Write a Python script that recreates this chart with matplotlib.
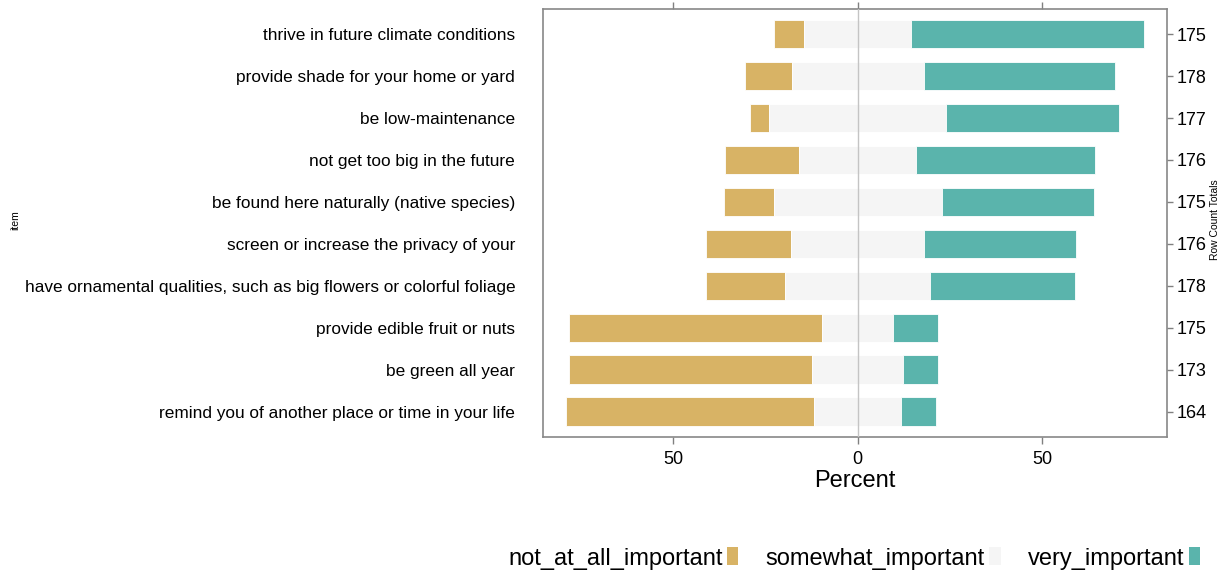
import numpy as np
import matplotlib.pyplot as plt
from matplotlib.patches import Patch

plt.rcParams["font.family"] = ["Liberation Sans", "DejaVu Sans"]

# Survey items, top to bottom as shown
items = [
    "thrive in future climate conditions",
    "provide shade for your home or yard",
    "be low-maintenance",
    "not get too big in the future",
    "be found here naturally (native species)",
    "screen or increase the privacy of your",
    "have ornamental qualities, such as big flowers or colorful foliage",
    "provide edible fruit or nuts",
    "be green all year",
    "remind you of another place or time in your life",
]
# Percent of respondents per level
not_at_all_important = [8.1, 12.6, 5.2, 20.1, 13.4, 22.9, 21.4, 68.7, 66.0, 67.2]
somewhat_important = [28.9, 35.8, 47.8, 31.6, 45.5, 36.1, 39.2, 19.2, 24.6, 23.6]
very_important = [63.0, 51.8, 47.0, 48.5, 41.2, 41.1, 39.4, 12.1, 9.4, 9.3]
row_totals = [175, 178, 177, 176, 175, 176, 178, 175, 173, 164]

levels = ["not_at_all_important", "somewhat_important", "very_important"]
colors = ["#D8B365", "#F5F5F5", "#5AB4AC"]

neg = np.array(not_at_all_important)
mid = np.array(somewhat_important)
pos = np.array(very_important)
n = len(items)
y = np.arange(n, 0, -1)

fig = plt.figure(figsize=(12.27, 5.71), dpi=100)
ax = fig.add_axes([0.4425, 0.2352, 0.9508 - 0.4425, 0.9842 - 0.2352])

h = 0.675
ax.barh(y, neg, left=-mid / 2 - neg, height=h, color=colors[0], edgecolor="white", linewidth=0.6)
ax.barh(y, mid, left=-mid / 2, height=h, color=colors[1], edgecolor="white", linewidth=0.6)
ax.barh(y, pos, left=mid / 2, height=h, color=colors[2], edgecolor="white", linewidth=0.6)
ax.axvline(0, color="#C4C4C4", linewidth=1, zorder=3)

# lattice-style 4% padding
lo = (-mid / 2 - neg).min()
hi = (mid / 2 + pos).max()
pad = 0.04 * (hi - lo)
ax.set_xlim(lo - pad, hi + pad)
ax.set_ylim(0.4, n + 0.6)

ax.set_xticks([-50, 0, 50])
ax.set_xticklabels(["50", "0", "50"])
ax.tick_params(axis="x", which="both", top=True, bottom=True, labelsize=13,
               color="#808080", length=5, width=1, pad=5)
ax.set_xlabel("Percent", fontsize=17, labelpad=2)

# right axis with row totals
ax2 = ax.twinx()
ax2.set_ylim(ax.get_ylim())
ax2.set_yticks(y)
ax2.set_yticklabels([str(t) for t in row_totals], fontsize=13)
ax2.tick_params(axis="y", color="#808080", length=4, width=1, pad=3)
for s in ax2.spines.values():
    s.set_visible(False)

ax.set_yticks(y)
ax.set_yticklabels(items, fontsize=12.4)
ax.tick_params(axis="y", left=False, right=False, length=0, pad=20)

for s in ax.spines.values():
    s.set_color("#888888")
    s.set_linewidth(1.2)

fig.text(0.0125, 0.615, "item", rotation=90, fontsize=7.5, ha="center", va="center")
fig.text(0.9905, 0.615, "Row Count Totals", rotation=90, fontsize=7.5, ha="center", va="center")

handles = [Patch(facecolor=c, edgecolor="none") for c in colors]
fig.legend(handles, levels, loc="center", bbox_to_anchor=(0.696, 0.022), ncol=3,
           frameon=False, fontsize=17, markerfirst=False, handlelength=0.47,
           handleheight=0.8, handletextpad=0.2, columnspacing=1.15)

fig.savefig("out.png", dpi=100)
